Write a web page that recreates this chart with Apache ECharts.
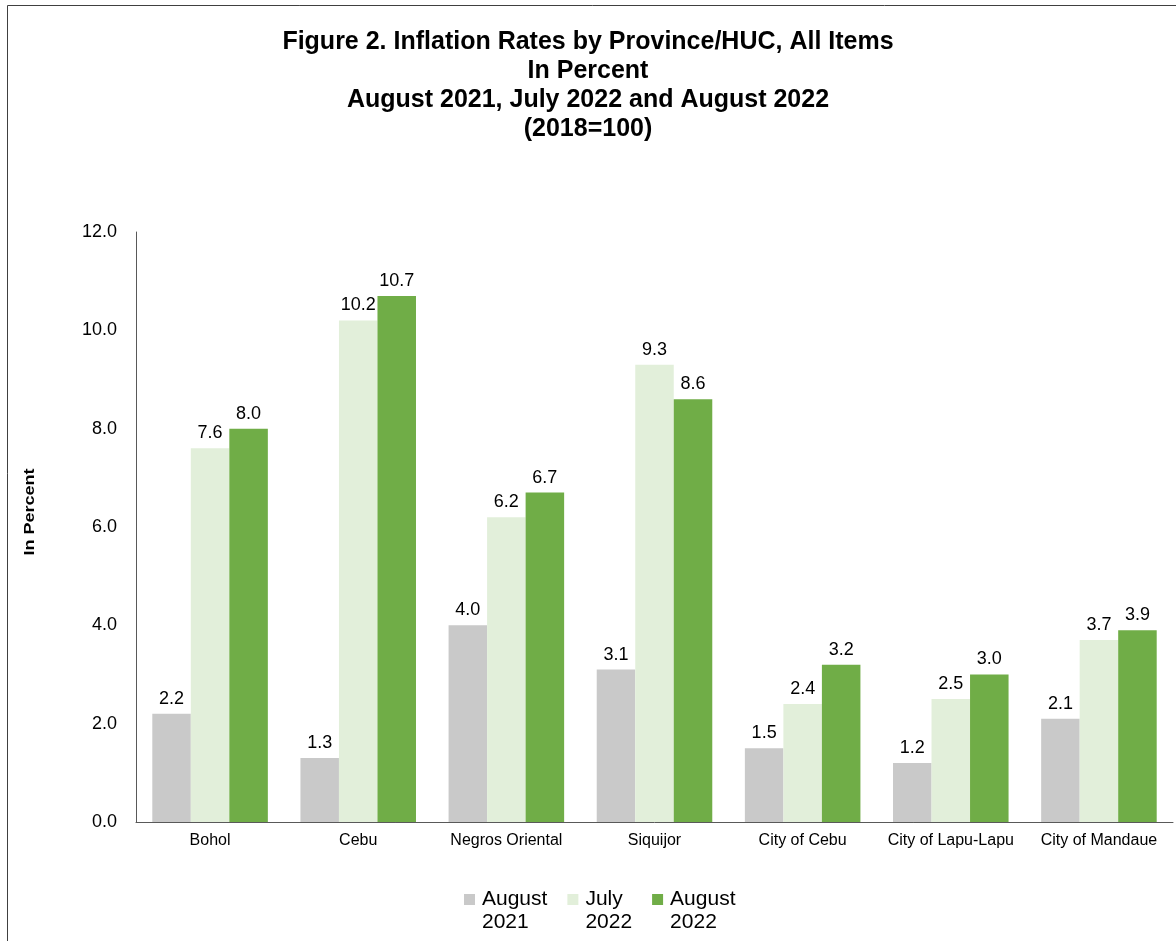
<!DOCTYPE html>
<html>
<head>
<meta charset="utf-8">
<title>Inflation Rates by Province/HUC</title>
<script src="https://cdn.jsdelivr.net/npm/echarts@6/dist/echarts.min.js"></script>
<style>
  html, body { margin: 0; padding: 0; background: #fff; }
  #chart { width: 1176px; height: 941px; }
</style>
</head>
<body>
<div id="chart"></div>
<script>
// Provinces and highly urbanized cities
const categories = ['Bohol', 'Cebu', 'Negros Oriental', 'Siquijor', 'City of Cebu', 'City of Lapu-Lapu', 'City of Mandaue'];

// Inflation rates, all items (percent)
const aug2021 = [2.2, 1.3, 4.0, 3.1, 1.5, 1.2, 2.1];
const jul2022 = [7.6, 10.2, 6.2, 9.3, 2.4, 2.5, 3.7];
const aug2022 = [8.0, 10.7, 6.7, 8.6, 3.2, 3.0, 3.9];

const seriesNames = ['August\n2021', 'July\n2022', 'August\n2022'];
const seriesColors = ['#c9c9c9', '#e2efda', '#70ad47'];

const FONT = '"Liberation Sans", Arial, sans-serif';

// Legend swatch: a small square level with the first text line, inside a
// taller box (tiny corner dots fix the box size) so two-line names fit.
const LEGEND_ICON = 'path://M0,0h0.01v0.01h-0.01z M0,6h11v11h-11z M13,46h0.01v0.01h-0.01z';

const chart = echarts.init(document.getElementById('chart'), null, { renderer: 'canvas' });

function barSeries(name, data, color) {
  return {
    name: name,
    type: 'bar',
    data: data,
    barGap: '0%',
    barCategoryGap: '22%',
    itemStyle: { color: color },
    label: {
      show: true,
      position: 'top',
      distance: 6,
      color: '#000',
      fontFamily: FONT,
      fontSize: 18,
      formatter: p => p.value.toFixed(1)
    }
  };
}

chart.setOption({
  backgroundColor: '#fff',
  animation: false,
  textStyle: { fontFamily: FONT },
  title: {
    text: 'Figure 2. Inflation Rates by Province/HUC, All Items\nIn Percent\nAugust 2021, July 2022 and August 2022\n(2018=100)',
    left: 'center',
    top: 22,
    textStyle: {
      fontFamily: FONT,
      fontSize: 25,
      fontWeight: 'bold',
      color: '#000',
      lineHeight: 29.3
    }
  },
  graphic: [
    {
      type: 'rect',
      shape: { x: 7.5, y: 5.5, width: 1200, height: 1000 },
      style: { fill: 'none', stroke: '#404040', lineWidth: 1 },
      silent: true
    },
    {
      type: 'text',
      x: 30,
      y: 512,
      rotation: Math.PI / 2,
      scaleX: 1.2,
      style: {
        text: 'In Percent',
        fontFamily: FONT,
        fontSize: 15,
        fontWeight: 'bold',
        fill: '#000',
        align: 'center',
        verticalAlign: 'middle'
      }
    }
  ],
  legend: {
    data: seriesNames,
    left: 459,
    top: 883,
    itemWidth: 13,
    itemHeight: 46,
    itemGap: 20,
    icon: LEGEND_ICON,
    textStyle: {
      fontFamily: FONT,
      fontSize: 21,
      color: '#000',
      lineHeight: 23
    }
  },
  grid: { left: 136, right: 3, top: 232, bottom: 119, containLabel: false },
  xAxis: {
    type: 'category',
    data: categories,
    axisLine: { show: true, lineStyle: { color: '#595959', width: 1 } },
    axisTick: { show: false },
    axisLabel: { interval: 0, color: '#000', fontFamily: FONT, fontSize: 16, margin: 11 }
  },
  yAxis: {
    type: 'value',
    min: 0,
    max: 12,
    interval: 2,
    axisLine: { show: true, lineStyle: { color: '#595959', width: 1 } },
    axisTick: { show: false },
    splitLine: { show: false },
    axisLabel: {
      color: '#000',
      fontFamily: FONT,
      fontSize: 18,
      margin: 19,
      formatter: v => v.toFixed(1)
    }
  },
  series: [
    barSeries(seriesNames[0], aug2021, seriesColors[0]),
    barSeries(seriesNames[1], jul2022, seriesColors[1]),
    barSeries(seriesNames[2], aug2022, seriesColors[2])
  ]
});
</script>
</body>
</html>
